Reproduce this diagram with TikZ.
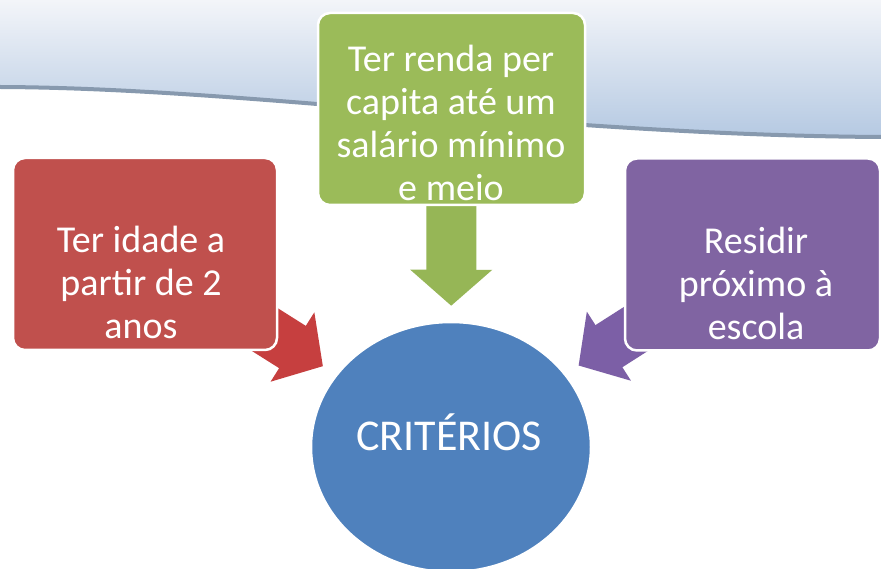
\documentclass[tikz,border=0pt]{standalone}
\usepackage{fontspec}
\setmainfont{Carlito}
\usetikzlibrary{arrows.meta, shapes.geometric, positioning}
\definecolor{critRed}{HTML}{C0504D}
\definecolor{critGreen}{HTML}{9BBB59}
\definecolor{critPurple}{HTML}{8064A2}
\definecolor{critBlue}{HTML}{4F81BD}
\definecolor{arrowRed}{HTML}{C63F3F}
\definecolor{arrowGreen}{HTML}{96B656}
\definecolor{arrowPurple}{HTML}{7C5FA6}
\definecolor{waveTop}{HTML}{F3F5F9}
\definecolor{waveBottom}{HTML}{B5C9E2}
\definecolor{waveEdge}{HTML}{8799AE}
\pgfdeclarelayer{back}
\pgfdeclarelayer{feed}
\pgfsetlayers{back,feed,main}
\tikzset{
    critBox/.style={rectangle, rounded corners=12pt, draw=white, line width=2.5pt, minimum width=264pt, minimum height=192pt, inner sep=0pt},
    critCircle/.style={ellipse, draw=white, line width=2.5pt, fill=critBlue, minimum width=280pt, minimum height=250pt, inner sep=0pt},
    boxText/.style={text=white, align=center, inner sep=0pt, font=\fontsize{38}{43}\selectfont},
    feedArrow/.style={line width=50pt, -{Triangle[length=36pt, width=80pt]}, shorten >=15pt},
}
\newcommand{\drawFeed}[3]{
    % seta larga que passa por baixo da caixa
    \begin{pgfonlayer}{feed}
    \draw[feedArrow, color=#3] (#1.center) -- (#2);
    \end{pgfonlayer}
}
\begin{document}
\begin{tikzpicture}[x=1pt, y=-1pt]

        \useasboundingbox (0,0) rectangle (881,569);
        \begin{pgfonlayer}{back}
        \fill[white] (0,0) rectangle (881,569);
        \shade[top color=waveTop, bottom color=waveBottom] (0,0) -- (881,0) -- (881,137) .. controls (550,135) and (250,88) .. (0,87) -- cycle;
        \draw[waveEdge, line width=4pt] (0,87) .. controls (250,88) and (550,135) .. (881,137);
        \end{pgfonlayer}

        \node[critBox, fill=critRed] (idade) at (145,254) {};
        \node[critBox, fill=critGreen, minimum width=267pt] (renda) at (451.5,109) {};
        \node[critBox, fill=critPurple, minimum width=255pt] (escola) at (752.5,254.5) {};
        \node[critCircle] (crit) at (451,447) {};

        \node[boxText] (idadeTxt) at (141,282) {Ter idade a\\partir de 2\\anos};
        \node[boxText] (rendaTxt) at (451,123) {Ter renda per\\capita até um\\salário mínimo\\e meio};
        \node[boxText] (escolaTxt) at (756,283) {Residir\\próximo à\\escola};
        \node[text=white, font=\fontsize{44}{50}\selectfont, anchor=base] (critTxt) at (449,450) {CRITÉRIOS};

        \drawFeed{idade}{crit}{arrowRed}
        \drawFeed{renda}{crit}{arrowGreen}
        \drawFeed{escola}{crit}{arrowPurple}

    \end{tikzpicture}
\end{document}
